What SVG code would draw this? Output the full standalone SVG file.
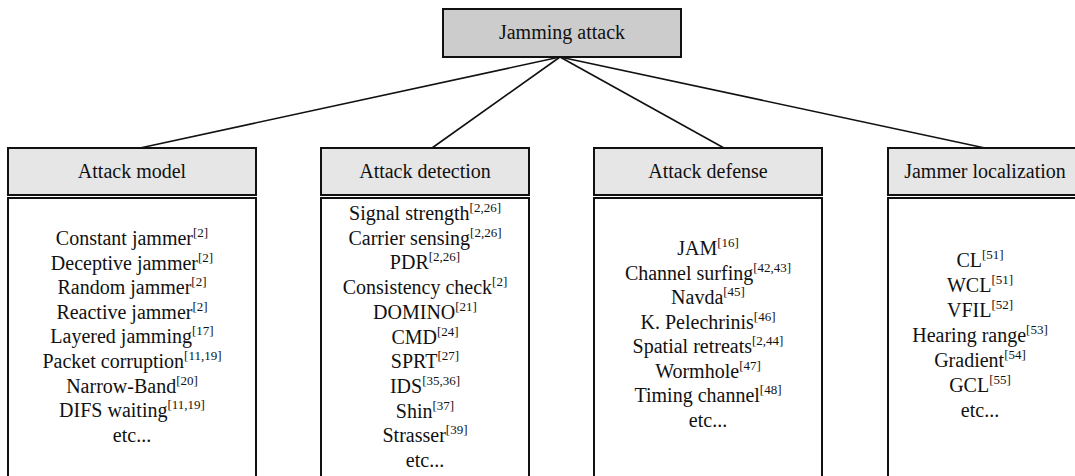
<svg xmlns="http://www.w3.org/2000/svg" width="1075" height="476" viewBox="0 0 1075 476">
<style>
.root{fill:#cccccc;stroke:#111;stroke-width:2}
.hd{fill:#e6e6e6;stroke:#111;stroke-width:2}
.bd{fill:#fff;stroke:#111;stroke-width:2}
.edge{stroke:#111;stroke-width:1.6;fill:none}
text{font-family:"Liberation Serif","Times New Roman",serif;font-size:20px;fill:#111;text-anchor:middle}
.sup{font-size:13px}
</style>
<rect width="1075" height="476" fill="#fff"/>
<g id="connectors">
<line class="edge" x1="560" y1="57" x2="140" y2="148"/>
<line class="edge" x1="560" y1="57" x2="432" y2="148"/>
<line class="edge" x1="560" y1="57" x2="724" y2="148"/>
<line class="edge" x1="560" y1="57" x2="985" y2="148"/>
</g>
<g id="root">
<rect class="root" x="443" y="9" width="238" height="48"/>
<text x="562" y="39">Jamming attack</text>
</g>
<g id="attack-model">
<rect class="hd" x="8" y="148" width="248" height="47"/>
<rect class="bd" x="8" y="198" width="248" height="300"/>
<text x="132" y="178">Attack model</text>
<text x="132" y="245">Constant jammer<tspan class="sup" dy="-8">[2]</tspan></text>
<text x="132" y="269.6">Deceptive jammer<tspan class="sup" dy="-8">[2]</tspan></text>
<text x="132" y="294.2">Random jammer<tspan class="sup" dy="-8">[2]</tspan></text>
<text x="132" y="318.8">Reactive jammer<tspan class="sup" dy="-8">[2]</tspan></text>
<text x="132" y="343.4">Layered jamming<tspan class="sup" dy="-8">[17]</tspan></text>
<text x="132" y="368">Packet corruption<tspan class="sup" dy="-8">[11,19]</tspan></text>
<text x="132" y="392.6">Narrow-Band<tspan class="sup" dy="-8">[20]</tspan></text>
<text x="132" y="417.2">DIFS waiting<tspan class="sup" dy="-8">[11,19]</tspan></text>
<text x="132" y="441.8">etc...</text>
</g>
<g id="attack-detection">
<rect class="hd" x="321" y="148" width="208" height="47"/>
<rect class="bd" x="321" y="198" width="208" height="300"/>
<text x="425" y="178">Attack detection</text>
<text x="425" y="220">Signal strength<tspan class="sup" dy="-8">[2,26]</tspan></text>
<text x="425" y="244.7">Carrier sensing<tspan class="sup" dy="-8">[2,26]</tspan></text>
<text x="425" y="269.4">PDR<tspan class="sup" dy="-8">[2,26]</tspan></text>
<text x="425" y="294.1">Consistency check<tspan class="sup" dy="-8">[2]</tspan></text>
<text x="425" y="318.8">DOMINO<tspan class="sup" dy="-8">[21]</tspan></text>
<text x="425" y="343.5">CMD<tspan class="sup" dy="-8">[24]</tspan></text>
<text x="425" y="368.2">SPRT<tspan class="sup" dy="-8">[27]</tspan></text>
<text x="425" y="392.9">IDS<tspan class="sup" dy="-8">[35,36]</tspan></text>
<text x="425" y="417.6">Shin<tspan class="sup" dy="-8">[37]</tspan></text>
<text x="425" y="442.3">Strasser<tspan class="sup" dy="-8">[39]</tspan></text>
<text x="425" y="467">etc...</text>
</g>
<g id="attack-defense">
<rect class="hd" x="594" y="148" width="228" height="47"/>
<rect class="bd" x="594" y="198" width="228" height="300"/>
<text x="708" y="178">Attack defense</text>
<text x="708" y="255">JAM<tspan class="sup" dy="-8">[16]</tspan></text>
<text x="708" y="279.5">Channel surfing<tspan class="sup" dy="-8">[42,43]</tspan></text>
<text x="708" y="304">Navda<tspan class="sup" dy="-8">[45]</tspan></text>
<text x="708" y="328.5">K. Pelechrinis<tspan class="sup" dy="-8">[46]</tspan></text>
<text x="708" y="353">Spatial retreats<tspan class="sup" dy="-8">[2,44]</tspan></text>
<text x="708" y="377.5">Wormhole<tspan class="sup" dy="-8">[47]</tspan></text>
<text x="708" y="402">Timing channel<tspan class="sup" dy="-8">[48]</tspan></text>
<text x="708" y="426.5">etc...</text>
</g>
<g id="jammer-localization">
<rect class="hd" x="888" y="148" width="200" height="47"/>
<rect class="bd" x="888" y="198" width="200" height="300"/>
<text x="985" y="178">Jammer localization</text>
<text x="980" y="267">CL<tspan class="sup" dy="-8">[51]</tspan></text>
<text x="980" y="292">WCL<tspan class="sup" dy="-8">[51]</tspan></text>
<text x="980" y="317">VFIL<tspan class="sup" dy="-8">[52]</tspan></text>
<text x="980" y="342">Hearing range<tspan class="sup" dy="-8">[53]</tspan></text>
<text x="980" y="367">Gradient<tspan class="sup" dy="-8">[54]</tspan></text>
<text x="980" y="392">GCL<tspan class="sup" dy="-8">[55]</tspan></text>
<text x="980" y="417">etc...</text>
</g>
</svg>
